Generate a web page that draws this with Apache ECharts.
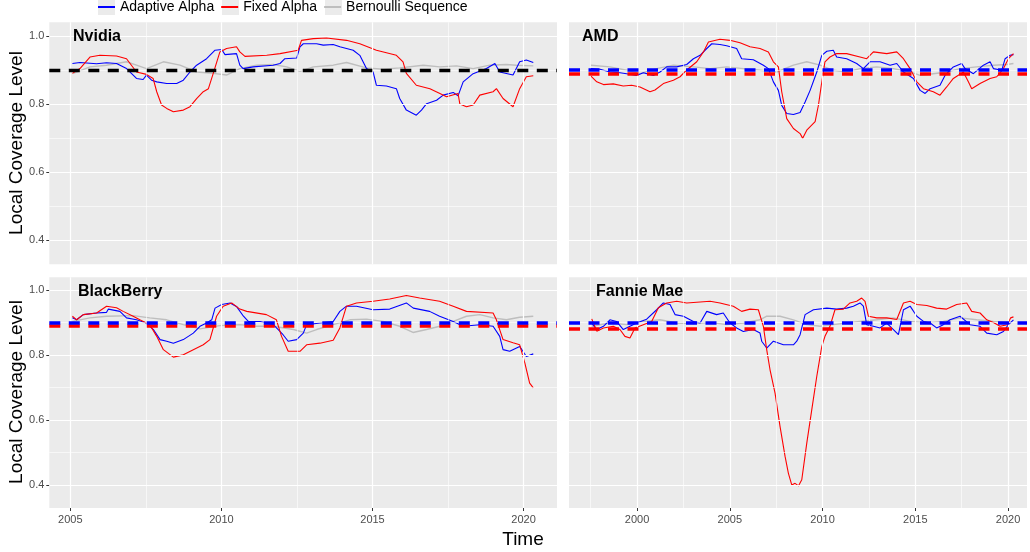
<!DOCTYPE html>
<html><head><meta charset="utf-8">
<script src="https://cdn.jsdelivr.net/npm/echarts@6/dist/echarts.min.js"></script>
<style>html,body{margin:0;padding:0;background:#fff}#c{width:1030px;height:552px}</style>
</head><body><div id="c"></div>
<script>
const panelNames = ['Nvidia', 'AMD', 'BlackBerry', 'Fannie Mae'];
const seriesNames = ['Adaptive Alpha', 'Fixed Alpha', 'Bernoulli Sequence'];

const nvidiaAdaptive = [[2005.07,0.919],[2005.32,0.922],[2005.87,0.918],[2006.2,0.921],[2006.53,0.919],[2006.86,0.904],[2007.03,0.889],[2007.19,0.875],[2007.41,0.872],[2007.52,0.885],[2007.69,0.870],[2007.86,0.865],[2008.19,0.860],[2008.52,0.860],[2008.74,0.870],[2008.96,0.894],[2009.18,0.914],[2009.51,0.933],[2009.79,0.958],[2010.01,0.960],[2010.12,0.945],[2010.5,0.948],[2010.61,0.914],[2010.72,0.904],[2011.05,0.909],[2011.71,0.914],[2011.94,0.919],[2012.1,0.933],[2012.49,0.935],[2012.6,0.968],[2012.71,0.977],[2013.15,0.977],[2013.37,0.973],[2013.7,0.975],[2013.92,0.968],[2014.36,0.958],[2014.58,0.943],[2014.8,0.904],[2015.02,0.894],[2015.13,0.855],[2015.46,0.853],[2015.79,0.845],[2015.9,0.816],[2016.12,0.782],[2016.45,0.767],[2016.62,0.782],[2016.79,0.801],[2017.12,0.811],[2017.34,0.826],[2017.67,0.834],[2017.83,0.824],[2018.0,0.865],[2018.33,0.889],[2018.77,0.904],[2019.05,0.919],[2019.21,0.894],[2019.65,0.885],[2019.87,0.924],[2020.09,0.929],[2020.32,0.922]];
const nvidiaFixed = [[2005.07,0.890],[2005.32,0.904],[2005.65,0.938],[2005.98,0.943],[2006.53,0.941],[2006.86,0.933],[2007.19,0.894],[2007.52,0.887],[2007.74,0.875],[2007.86,0.836],[2008.02,0.797],[2008.19,0.787],[2008.41,0.777],[2008.74,0.782],[2008.96,0.792],[2009.18,0.816],[2009.4,0.836],[2009.57,0.845],[2009.73,0.890],[2009.95,0.953],[2010.17,0.963],[2010.5,0.968],[2010.61,0.953],[2010.78,0.940],[2011.5,0.943],[2011.94,0.948],[2012.54,0.958],[2012.65,0.987],[2013.04,0.992],[2013.48,0.994],[2014.14,0.987],[2014.58,0.977],[2015.13,0.958],[2015.79,0.943],[2016.01,0.924],[2016.12,0.890],[2016.45,0.855],[2016.9,0.845],[2017.23,0.831],[2017.45,0.821],[2017.83,0.831],[2017.89,0.800],[2018.11,0.792],[2018.33,0.797],[2018.55,0.826],[2018.99,0.836],[2019.1,0.845],[2019.32,0.816],[2019.65,0.792],[2019.87,0.845],[2020.09,0.880],[2020.32,0.883]];
const nvidiaBernoulli = [[2005.1,0.890],[2005.65,0.909],[2006.2,0.914],[2006.86,0.924],[2007.19,0.914],[2007.52,0.904],[2008.08,0.924],[2008.63,0.914],[2009.18,0.894],[2009.73,0.890],[2010.17,0.885],[2010.61,0.904],[2011.16,0.914],[2011.71,0.916],[2012.16,0.909],[2012.6,0.896],[2013.04,0.909],[2013.7,0.914],[2014.14,0.922],[2014.8,0.906],[2015.35,0.902],[2015.9,0.906],[2016.68,0.914],[2017.23,0.909],[2017.78,0.912],[2018.33,0.904],[2018.88,0.914],[2019.43,0.916],[2019.76,0.914],[2020.32,0.912]];

const amdAdaptive = [[1997.52,0.904],[1998.01,0.902],[1998.54,0.894],[1999.08,0.892],[1999.44,0.889],[1999.98,0.884],[2000.34,0.892],[2000.88,0.884],[2001.24,0.894],[2001.6,0.909],[2002.14,0.909],[2002.68,0.916],[2003.04,0.933],[2003.4,0.943],[2003.76,0.963],[2004.03,0.977],[2004.47,0.975],[2004.83,0.971],[2005.37,0.963],[2005.64,0.933],[2006.27,0.930],[2006.81,0.914],[2007.08,0.904],[2007.35,0.865],[2007.62,0.840],[2007.8,0.796],[2008.07,0.772],[2008.43,0.769],[2008.79,0.775],[2009.06,0.806],[2009.33,0.840],[2009.69,0.894],[2009.96,0.943],[2010.23,0.955],[2010.58,0.958],[2010.76,0.938],[2011.3,0.933],[2011.84,0.919],[2012.2,0.904],[2012.56,0.924],[2013.1,0.924],[2013.64,0.914],[2014.0,0.919],[2014.36,0.894],[2014.9,0.875],[2015.26,0.840],[2015.53,0.831],[2015.8,0.845],[2016.33,0.855],[2016.6,0.884],[2017.05,0.909],[2017.5,0.919],[2017.68,0.904],[2018.13,0.889],[2018.67,0.914],[2019.03,0.924],[2019.21,0.904],[2019.66,0.899],[2019.84,0.933],[2020.11,0.943],[2020.29,0.945]];
const amdFixed = [[1997.52,0.882],[1997.83,0.865],[1998.19,0.857],[1998.72,0.859],[1999.26,0.853],[1999.71,0.855],[2000.16,0.850],[2000.7,0.836],[2000.97,0.841],[2001.42,0.860],[2001.96,0.870],[2002.32,0.880],[2002.68,0.900],[2003.22,0.924],[2003.58,0.953],[2003.85,0.982],[2004.47,0.990],[2005.01,0.987],[2005.55,0.980],[2006.09,0.968],[2006.63,0.963],[2007.08,0.953],[2007.35,0.924],[2007.62,0.909],[2007.8,0.836],[2008.07,0.757],[2008.43,0.728],[2008.79,0.713],[2008.93,0.699],[2009.15,0.723],[2009.6,0.748],[2009.78,0.797],[2009.96,0.865],[2010.13,0.924],[2010.4,0.938],[2010.76,0.948],[2011.3,0.948],[2012.02,0.938],[2012.38,0.933],[2012.74,0.953],[2013.46,0.948],[2014.0,0.953],[2014.36,0.933],[2014.72,0.904],[2015.08,0.865],[2015.44,0.845],[2015.97,0.836],[2016.33,0.826],[2016.69,0.850],[2017.05,0.875],[2017.59,0.894],[2017.86,0.865],[2018.04,0.845],[2018.49,0.860],[2019.03,0.875],[2019.39,0.880],[2019.75,0.904],[2020.02,0.933],[2020.29,0.948]];
const amdBernoulli = [[1997.52,0.914],[1998.54,0.909],[1999.44,0.899],[2000.16,0.889],[2001.06,0.904],[2001.96,0.914],[2003.04,0.909],[2003.94,0.904],[2004.83,0.909],[2005.73,0.904],[2006.63,0.899],[2007.53,0.894],[2008.43,0.914],[2009.15,0.924],[2009.87,0.914],[2010.58,0.899],[2011.3,0.894],[2012.02,0.904],[2012.92,0.909],[2013.82,0.904],[2014.72,0.894],[2015.26,0.884],[2015.97,0.889],[2016.69,0.894],[2017.41,0.904],[2018.31,0.909],[2019.21,0.914],[2019.93,0.916],[2020.29,0.919]];

const blackberryAdaptive = [[2005.07,0.915],[2005.21,0.909],[2005.43,0.925],[2005.87,0.930],[2006.2,0.932],[2006.26,0.942],[2006.64,0.935],[2006.86,0.915],[2007.19,0.909],[2007.52,0.899],[2007.75,0.879],[2007.97,0.848],[2008.19,0.843],[2008.41,0.837],[2008.74,0.848],[2009.07,0.868],[2009.29,0.889],[2009.51,0.899],[2009.68,0.909],[2009.79,0.945],[2010.01,0.956],[2010.29,0.961],[2010.51,0.949],[2010.73,0.920],[2010.89,0.904],[2011.28,0.904],[2011.72,0.894],[2012.04,0.863],[2012.21,0.843],[2012.49,0.848],[2012.71,0.868],[2012.82,0.894],[2013.26,0.899],[2013.7,0.904],[2013.92,0.935],[2014.14,0.951],[2014.47,0.951],[2015.02,0.940],[2015.57,0.942],[2016.12,0.961],[2016.35,0.945],[2016.89,0.935],[2017.22,0.920],[2017.67,0.904],[2018.0,0.889],[2018.55,0.894],[2018.99,0.889],[2019.21,0.858],[2019.32,0.817],[2019.54,0.812],[2019.87,0.827],[2020.09,0.796],[2020.32,0.804]];
const blackberryFixed = [[2005.07,0.920],[2005.21,0.909],[2005.43,0.925],[2005.87,0.930],[2006.2,0.951],[2006.53,0.946],[2006.75,0.935],[2007.08,0.920],[2007.3,0.909],[2007.63,0.894],[2007.86,0.858],[2008.08,0.817],[2008.41,0.794],[2008.74,0.801],[2009.07,0.817],[2009.4,0.832],[2009.62,0.848],[2009.84,0.920],[2010.06,0.951],[2010.34,0.961],[2010.61,0.942],[2010.84,0.935],[2011.49,0.925],[2011.82,0.909],[2011.99,0.858],[2012.21,0.812],[2012.6,0.812],[2012.82,0.832],[2013.26,0.837],[2013.7,0.846],[2013.92,0.884],[2014.14,0.951],[2014.47,0.961],[2015.02,0.966],[2015.57,0.973],[2016.12,0.984],[2016.56,0.976],[2017.22,0.966],[2017.67,0.951],[2018.11,0.935],[2018.99,0.930],[2019.1,0.909],[2019.32,0.848],[2019.65,0.838],[2019.87,0.832],[2020.04,0.776],[2020.2,0.714],[2020.32,0.699]];
const blackberryBernoulli = [[2005.07,0.904],[2005.65,0.915],[2006.2,0.920],[2007.08,0.922],[2007.63,0.915],[2008.19,0.909],[2008.74,0.894],[2009.29,0.881],[2009.95,0.891],[2010.61,0.894],[2011.16,0.889],[2011.72,0.889],[2012.38,0.879],[2012.82,0.868],[2013.15,0.879],[2013.7,0.894],[2014.25,0.909],[2014.8,0.911],[2015.35,0.904],[2015.9,0.889],[2016.34,0.870],[2016.79,0.879],[2017.23,0.889],[2017.67,0.904],[2018.11,0.920],[2018.55,0.925],[2018.99,0.915],[2019.43,0.909],[2019.87,0.917],[2020.32,0.920]];

const fannieAdaptive = [[1997.56,0.899],[1997.83,0.879],[1998.19,0.889],[1998.54,0.909],[1998.9,0.904],[1999.26,0.879],[1999.62,0.889],[1999.98,0.899],[2000.52,0.911],[2001.06,0.940],[2001.42,0.961],[2001.78,0.956],[2002.05,0.925],[2002.5,0.920],[2003.04,0.904],[2003.4,0.899],[2003.76,0.935],[2004.29,0.925],[2004.65,0.930],[2005.01,0.899],[2005.37,0.884],[2005.73,0.873],[2006.27,0.879],[2006.63,0.868],[2006.72,0.843],[2006.99,0.822],[2007.35,0.843],[2007.89,0.832],[2008.43,0.832],[2008.61,0.843],[2008.79,0.863],[2009.06,0.925],[2009.51,0.940],[2010.23,0.945],[2010.76,0.942],[2011.3,0.945],[2011.66,0.951],[2012.02,0.961],[2012.2,0.951],[2012.38,0.894],[2012.74,0.889],[2013.1,0.884],[2013.46,0.899],[2013.82,0.879],[2014.09,0.863],[2014.36,0.940],[2014.72,0.951],[2015.08,0.920],[2015.44,0.904],[2015.8,0.899],[2016.15,0.884],[2016.51,0.894],[2016.87,0.909],[2017.41,0.920],[2017.95,0.894],[2018.49,0.889],[2018.85,0.868],[2019.39,0.863],[2019.75,0.873],[2020.02,0.894],[2020.29,0.909]];
const fannieFixed = [[1997.56,0.912],[1997.83,0.874],[1998.19,0.884],[1998.72,0.889],[1999.08,0.879],[1999.35,0.858],[1999.62,0.853],[1999.89,0.884],[2000.34,0.894],[2000.79,0.904],[2001.15,0.946],[2001.6,0.961],[2002.14,0.966],[2002.68,0.961],[2003.4,0.964],[2003.94,0.966],[2004.47,0.961],[2005.19,0.951],[2005.64,0.935],[2006.09,0.942],[2006.54,0.940],[2006.81,0.889],[2006.99,0.817],[2007.17,0.755],[2007.44,0.683],[2007.71,0.580],[2007.98,0.488],[2008.16,0.436],[2008.34,0.400],[2008.52,0.405],[2008.7,0.397],[2008.88,0.416],[2009.15,0.529],[2009.42,0.632],[2009.69,0.735],[2009.96,0.827],[2010.13,0.858],[2010.4,0.889],[2010.67,0.940],[2011.12,0.942],[2011.48,0.961],[2011.84,0.966],[2012.11,0.976],[2012.29,0.966],[2012.47,0.920],[2012.92,0.915],[2013.46,0.915],[2014.0,0.910],[2014.36,0.961],[2014.72,0.966],[2015.08,0.956],[2015.62,0.953],[2016.15,0.945],[2016.69,0.942],[2017.23,0.956],[2017.77,0.961],[2018.04,0.935],[2018.49,0.930],[2018.85,0.909],[2019.21,0.901],[2019.57,0.889],[2019.96,0.894],[2020.14,0.915],[2020.29,0.918]];
const fannieBernoulli = [[1997.56,0.889],[1998.54,0.899],[1999.44,0.894],[2000.34,0.904],[2001.24,0.909],[2002.14,0.899],[2003.04,0.897],[2003.94,0.901],[2004.83,0.894],[2005.73,0.899],[2006.63,0.909],[2006.99,0.920],[2007.71,0.920],[2008.43,0.909],[2009.15,0.894],[2009.87,0.889],[2010.58,0.894],[2011.3,0.899],[2012.02,0.904],[2012.92,0.909],[2013.82,0.915],[2014.72,0.904],[2015.62,0.899],[2016.51,0.904],[2017.41,0.915],[2018.31,0.909],[2019.21,0.904],[2020.14,0.901]];

// reference (target) and fixed-alpha overall coverage lines per panel
const hlineTarget = [0.9, 0.9, 0.9, 0.9];
const hlineFixed = [null, 0.891, 0.888, 0.884];

const yMajorTicks = [0.4, 0.6, 0.8, 1.0];
const yMinorTicks = [0.5, 0.7, 0.9];
const xMajorLeft = [2005, 2010, 2015, 2020];
const xMinorLeft = [2007.5, 2012.5, 2017.5];
const xMajorRight = [2000, 2005, 2010, 2015, 2020];
const xMinorRight = [1997.5, 2002.5, 2007.5, 2012.5, 2017.5];

const panelSeries = [
  [nvidiaAdaptive, nvidiaFixed, nvidiaBernoulli],
  [amdAdaptive, amdFixed, amdBernoulli],
  [blackberryAdaptive, blackberryFixed, blackberryBernoulli],
  [fannieAdaptive, fannieFixed, fannieBernoulli]
];

const FONT = "'Liberation Sans', Arial, Helvetica, sans-serif";
const COLORS = ['#0000FF', '#FF0000', '#BEBEBE'];
const grids = [
  {left: 49.3, top: 22.3, width: 507.7, height: 242},
  {left: 569, top: 22.3, width: 458, height: 242},
  {left: 49.3, top: 277.3, width: 507.7, height: 230.7},
  {left: 569, top: 277.3, width: 458, height: 230.7}
];
const xRanges = [[2004.305, 2021.105], [1996.334, 2021.02], [2004.305, 2021.105], [1996.334, 2021.02]];
const yRange = [0.329, 1.04];

const xAxes = grids.map((g, i) => {
  const isLeft = i % 2 === 0, isBottom = i >= 2;
  const major = isLeft ? xMajorLeft : xMajorRight;
  return {
    type: 'value', gridIndex: i, min: xRanges[i][0], max: xRanges[i][1],
    axisLine: {show: false}, splitLine: {show: false},
    axisTick: {show: isBottom, customValues: major, length: 3, lineStyle: {color: '#333333', width: 1}},
    axisLabel: {show: isBottom, customValues: major, margin: 6, color: '#4D4D4D', fontSize: 11, fontFamily: FONT,
      formatter: v => String(Math.round(v))}
  };
});
const yAxes = grids.map((g, i) => {
  const isLeft = i % 2 === 0;
  return {
    type: 'value', gridIndex: i, min: yRange[0], max: yRange[1],
    axisLine: {show: false}, splitLine: {show: false},
    axisTick: {show: isLeft, customValues: yMajorTicks, length: 3, lineStyle: {color: '#333333', width: 1}},
    axisLabel: {show: isLeft, customValues: yMajorTicks, margin: 5, color: '#4D4D4D', fontSize: 11, fontFamily: FONT,
      formatter: v => v.toFixed(1)}
  };
});

const series = [];
grids.forEach((g, i) => {
  const isLeft = i % 2 === 0;
  const ml = (arr, key, w) => arr.map(v => ({[key]: v, lineStyle: {color: '#FFFFFF', width: w, type: 'solid'}}));
  series.push({
    type: 'line', name: 'grid' + i, xAxisIndex: i, yAxisIndex: i, data: [], silent: true, z: 1,
    markLine: {silent: true, symbol: ['none', 'none'], label: {show: false}, animation: false, emphasis: {disabled: true},
      data: [
        ...ml(yMinorTicks, 'yAxis', 0.6), ...ml(isLeft ? xMinorLeft : xMinorRight, 'xAxis', 0.6),
        ...ml(yMajorTicks, 'yAxis', 1.2), ...ml(isLeft ? xMajorLeft : xMajorRight, 'xAxis', 1.2)
      ]}
  });
  // Bernoulli first (bottom), then adaptive, then fixed
  [2, 0, 1].forEach(k => {
    series.push({
      type: 'line', name: seriesNames[k], xAxisIndex: i, yAxisIndex: i,
      data: panelSeries[i][k], showSymbol: false, symbol: 'none', z: 2 + (k === 2 ? 0 : 1),
      itemStyle: {color: COLORS[k]},
      lineStyle: {color: COLORS[k], width: k === 2 ? 1.4 : 1.1},
      emphasis: {disabled: true}
    });
  });
  const dash = [11, 8.5];
  const hl = [];
  if (i === 0) {
    hl.push({yAxis: hlineTarget[i], lineStyle: {color: '#000000', width: 3.3, type: dash}});
  } else {
    hl.push({yAxis: hlineFixed[i], lineStyle: {color: '#FF0000', width: 3.5, type: dash}});
    hl.push({yAxis: hlineTarget[i], lineStyle: {color: '#0000FF', width: 3.5, type: dash}});
  }
  series.push({
    type: 'line', name: 'hline' + i, xAxisIndex: i, yAxisIndex: i, data: [], silent: true, z: 6,
    markLine: {silent: true, symbol: ['none', 'none'], label: {show: false}, animation: false, emphasis: {disabled: true}, data: hl}
  });
});

const labelPos = [[73, 37], [582, 37], [78, 292], [596, 292]];
const graphic = [
  {type: 'rect', shape: {x: 98, y: -2, width: 17, height: 17}, style: {fill: '#EBEBEB'}, z: -1},
  {type: 'rect', shape: {x: 222, y: -2, width: 17, height: 17}, style: {fill: '#EBEBEB'}, z: -1},
  {type: 'rect', shape: {x: 325, y: -2, width: 17, height: 17}, style: {fill: '#EBEBEB'}, z: -1},
  ...panelNames.map((n, i) => ({type: 'text', x: labelPos[i][0], y: labelPos[i][1], z: 10,
    style: {text: n, fill: '#000', font: 'bold 16px ' + FONT, textAlign: 'left', textVerticalAlign: 'middle'}})),
  {type: 'text', x: 17, y: 143, rotation: Math.PI / 2,
    style: {text: 'Local Coverage Level', fill: '#000', font: '19px ' + FONT, textAlign: 'center', textVerticalAlign: 'middle'}},
  {type: 'text', x: 17, y: 392, rotation: Math.PI / 2,
    style: {text: 'Local Coverage Level', fill: '#000', font: '19px ' + FONT, textAlign: 'center', textVerticalAlign: 'middle'}},
  {type: 'text', x: 523, y: 540,
    style: {text: 'Time', fill: '#000', font: '19px ' + FONT, textAlign: 'center', textVerticalAlign: 'middle'}}
];

const chart = echarts.init(document.getElementById('c'), null, {renderer: 'canvas'});
chart.setOption({
  animation: false,
  backgroundColor: '#FFFFFF',
  legend: {
    data: seriesNames, left: 98, top: 0, padding: 0, itemGap: 7, itemWidth: 17, itemHeight: 2, icon: 'rect',
    textStyle: {fontSize: 14, fontFamily: FONT, color: '#000'}, selectedMode: false
  },
  grid: grids.map(g => Object.assign({show: true, backgroundColor: '#EBEBEB', borderWidth: 0, containLabel: false}, g)),
  xAxis: xAxes,
  yAxis: yAxes,
  series: series,
  graphic: graphic
});
</script>
</body></html>
